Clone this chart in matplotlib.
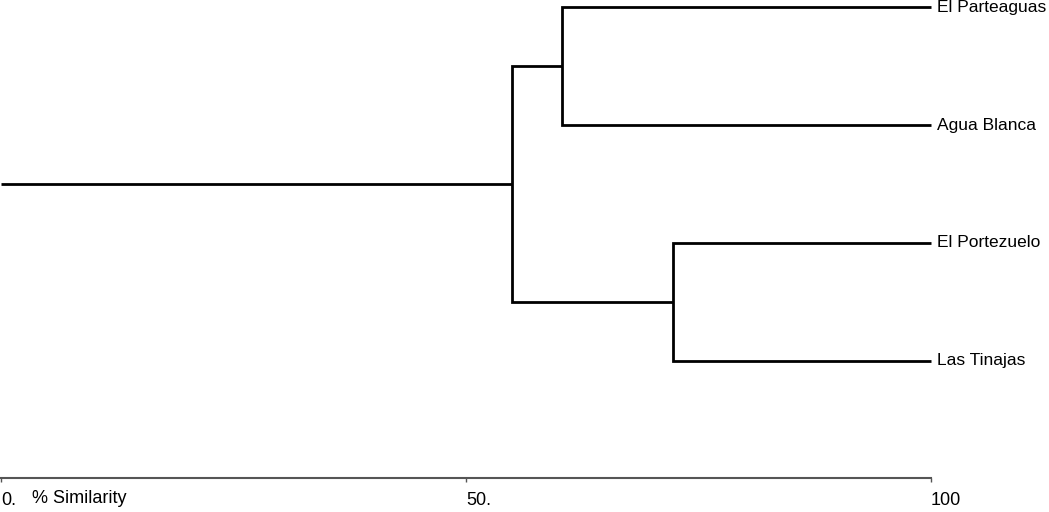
import matplotlib
matplotlib.use("Agg")
import matplotlib.pyplot as plt

plt.rcParams.update({
    "font.family": ["Liberation Sans", "DejaVu Sans"],
    "font.size": 13,
})

# leaves top to bottom, merges as (child a, child b, % similarity); new clusters numbered 4, 5, 6
leaves = ["El Parteaguas", "Agua Blanca", "El Portezuelo", "Las Tinajas"]
merges = [(0, 1, 60.3), (2, 3, 72.3), (4, 5, 54.9)]
tick_values = [0, 50, 100]
tick_labels = ["0.", "50.", "100"]
axis_title = "% Similarity"

fig = plt.figure(figsize=(10.49, 5.12), dpi=100)
ax = fig.add_axes([0, 0, 1, 1])

# node positions: (y, similarity)
pos = {i: (i, 100.0) for i in range(len(leaves))}
for k, (a, b, sim) in enumerate(merges):
    ya, xa = pos[a]
    yb, xb = pos[b]
    ax.plot([xa, sim, sim, xb], [ya, ya, yb, yb], color="black", lw=2.0,
            solid_joinstyle="miter", solid_capstyle="butt")
    pos[len(leaves) + k] = ((ya + yb) / 2, sim)

root_y, root_x = pos[len(leaves) + len(merges) - 1]
ax.plot([0, root_x], [root_y, root_y], color="black", lw=2.0, solid_capstyle="butt")

for i, name in enumerate(leaves):
    ax.text(100.6, i, name, ha="left", va="center", fontsize=12.5)

# similarity axis
axis_y = 4.0
ax.spines[["top", "right", "left"]].set_visible(False)
ax.spines["bottom"].set_position(("data", axis_y))
ax.spines["bottom"].set_bounds(0, 100)
ax.spines["bottom"].set_color("#555555")
ax.spines["bottom"].set_linewidth(1.5)
ax.set_xticks(tick_values)
ax.set_xticklabels(tick_labels, ha="left")
ax.tick_params(axis="x", length=3, width=1, color="#555555", pad=7, labelsize=13)
ax.set_yticks([])
ax.text(3.3, axis_y + 0.17, axis_title, ha="left", va="center", fontsize=13)

ax.set_xlim(-0.1075, 112.69)
ax.set_ylim(4.286, -0.0637)

fig.savefig("out.png", dpi=100)
